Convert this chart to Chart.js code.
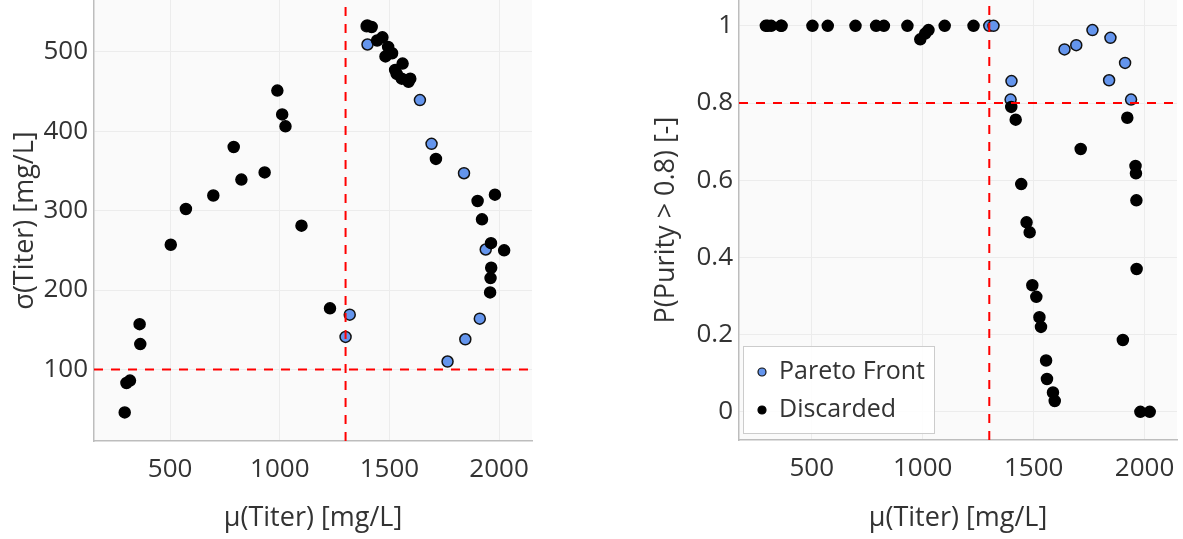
<!DOCTYPE html>
<html>
<head>
<meta charset="utf-8">
<title>Titer / Purity trade-off</title>
<script src="https://cdn.jsdelivr.net/npm/chart.js@4.4.1/dist/chart.umd.min.js"></script>
<style>
  html, body { margin: 0; padding: 0; background: #fff; }
  #wrap { position: relative; width: 1183px; height: 539px; overflow: hidden; }
  .panel { position: absolute; top: 0; }
  #left  { left: 0; }
  #right { left: 560px; }
</style>
</head>
<body>
<div id="wrap">
  <div class="panel" id="left"><canvas id="chartSigma" width="560" height="539"></canvas></div>
  <div class="panel" id="right"><canvas id="chartPurity" width="623" height="539"></canvas></div>
</div>
<script>
(function () {
    'use strict';

    // ── data: one entry per design ─────────────────────────────────────────
    var paretoMu    = [1300, 1319, 1400, 1396, 1639, 1692, 1765, 1840, 1846, 1912, 1939];
    var paretoSigma = [141, 169, 509, 532, 439, 384, 110, 347, 138, 164, 251];
    var paretoProb  = [1.0, 1.0, 0.857, 0.809, 0.939, 0.950, 0.989, 0.859, 0.969, 0.904, 0.809];

    var discardedMu = [293, 301, 317, 361, 364, 503, 572, 697, 790, 825, 931, 989, 1011, 1026, 1099, 1229,
                       1399, 1419, 1444, 1468, 1482, 1494, 1512, 1526, 1533, 1556, 1560, 1587, 1595,
                       1712, 1902, 1922, 1959, 1961, 1963, 1964, 1981, 2023];
    var discardedSigma = [46, 83, 86, 157, 132, 257, 302, 319, 380, 339, 348, 451, 421, 406, 281, 177,
                          533, 531, 514, 518, 494, 506, 498, 477, 472, 466, 485, 462, 466,
                          365, 312, 289, 197, 215, 259, 228, 320, 250];
    var discardedProb = [1, 1, 1, 1, 1, 1, 1, 1, 1, 1, 1, 0.965, 0.980, 0.989, 1, 1,
                         0.790, 0.757, 0.590, 0.491, 0.465, 0.328, 0.298, 0.245, 0.220, 0.133, 0.085, 0.050, 0.028,
                         0.681, 0.186, 0.762, 0.637, 0.618, 0.548, 0.370, 0, 0];

    // constraint thresholds
    var muMin     = 1300;
    var sigmaMax  = 100;
    var purityMin = 0.8;

    var muTicks    = [500, 1000, 1500, 2000];
    var sigmaTicks = [100, 200, 300, 400, 500];
    var probTicks  = [0, 0.2, 0.4, 0.6, 0.8, 1];

    var FONT = '"Open Sans", "Noto Sans", sans-serif';
    var TEXT = '#333333';
    var TICK_SIZE = 26, TITLE_SIZE = 27, LEGEND_SIZE = 25;

    function pairs(xs, ys) {
        return xs.map(function (x, i) { return { x: x, y: ys[i] }; });
    }

    // ── plugins ─────────────────────────────────────────────────────────────
    var plotBg = {
        id: 'plotBg',
        beforeDraw: function (chart) {
            var a = chart.chartArea, ctx = chart.ctx;
            ctx.save();
            ctx.fillStyle = '#fafafa';
            ctx.fillRect(a.left, a.top, a.right - a.left, a.bottom - a.top);
            ctx.restore();
        }
    };

    var thresholdLines = {
        id: 'thresholdLines',
        afterDatasetsDraw: function (chart, args, opts) {
            var a = chart.chartArea, ctx = chart.ctx;
            var px = chart.scales.x.getPixelForValue(opts.x);
            var py = chart.scales.y.getPixelForValue(opts.y);
            ctx.save();
            ctx.beginPath();
            ctx.rect(a.left, a.top, a.right - a.left, a.bottom - a.top);
            ctx.clip();
            ctx.strokeStyle = '#ff0000';
            ctx.lineWidth = 2;
            ctx.setLineDash([9, 8]);
            ctx.beginPath(); ctx.moveTo(px, a.bottom); ctx.lineTo(px, a.top); ctx.stroke();
            ctx.beginPath(); ctx.moveTo(a.left, py); ctx.lineTo(a.right, py); ctx.stroke();
            ctx.restore();
        }
    };

    // legend box in the lower-left corner of the plot area
    var boxLegend = {
        id: 'boxLegend',
        afterDraw: function (chart, args, opts) {
            if (!opts.show) return;
            var a = chart.chartArea, ctx = chart.ctx;
            var w = 192, h = 88;
            var x0 = a.left + 4, y0 = a.bottom - 6 - h;
            ctx.save();
            ctx.fillStyle = 'rgba(255,255,255,0.9)';
            ctx.fillRect(x0, y0, w, h);
            ctx.strokeStyle = '#cccccc';
            ctx.lineWidth = 1;
            ctx.strokeRect(x0 + 0.5, y0 + 0.5, w - 1, h - 1);
            ctx.font = LEGEND_SIZE + 'px ' + FONT;
            ctx.textBaseline = 'middle';
            ctx.textAlign = 'left';
            chart.data.datasets.forEach(function (ds, i) {
                var cy = y0 + 26 + i * 38;
                ctx.beginPath();
                ctx.arc(x0 + 19, cy, 4, 0, Math.PI * 2);
                ctx.fillStyle = ds.backgroundColor;
                ctx.fill();
                ctx.lineWidth = 1.2;
                ctx.strokeStyle = ds.borderColor;
                ctx.stroke();
                ctx.fillStyle = TEXT;
                ctx.fillText(ds.label, x0 + 36, cy);
            });
            ctx.restore();
        }
    };

    // ── chart factory ───────────────────────────────────────────────────────
    function makeScatter(canvasId, cfg) {
        var fixedTicks = function (vals) {
            return function (scale) {
                scale.ticks = vals.map(function (v) { return { value: v }; });
            };
        };
        return new Chart(document.getElementById(canvasId).getContext('2d'), {
            type: 'scatter',
            data: {
                datasets: [{
                    label: 'Pareto Front',
                    data: pairs(paretoMu, cfg.paretoY),
                    order: 1,
                    backgroundColor: '#6495ed',
                    borderColor: '#111111',
                    borderWidth: 1.5,
                    pointRadius: 5.5,
                    pointHoverRadius: 5.5
                }, {
                    label: 'Discarded',
                    data: pairs(discardedMu, cfg.discardedY),
                    order: 0,
                    backgroundColor: '#000000',
                    borderColor: '#000000',
                    borderWidth: 1.5,
                    pointRadius: 5.5,
                    pointHoverRadius: 5.5
                }]
            },
            options: {
                responsive: false,
                animation: false,
                layout: {
                    autoPadding: false,
                    padding: { left: 0, right: cfg.padRight, top: 0, bottom: 0 }
                },
                plugins: {
                    legend: { display: false },
                    tooltip: { enabled: false },
                    thresholdLines: { x: muMin, y: cfg.threshold },
                    boxLegend: { show: cfg.legend }
                },
                scales: {
                    x: {
                        type: 'linear',
                        min: cfg.xRange[0],
                        max: cfg.xRange[1],
                        afterBuildTicks: fixedTicks(muTicks),
                        afterFit: function (s) {
                            s.height = cfg.xAxisHeight;
                            s.paddingLeft = 0;
                            s.paddingRight = 0;
                        },
                        ticks: {
                            padding: 13,
                            maxRotation: 0,
                            color: TEXT,
                            font: { family: FONT, size: TICK_SIZE },
                            callback: function (v) { return String(v); }
                        },
                        grid: { color: '#ececec', lineWidth: 1, drawTicks: false },
                        border: { display: true, color: '#bdbdbd', width: 1.5 },
                        title: {
                            display: true,
                            text: 'μ(Titer) [mg/L]',
                            color: TEXT,
                            font: { family: FONT, size: TITLE_SIZE },
                            padding: { top: 0, bottom: 4 }
                        }
                    },
                    y: {
                        type: 'linear',
                        min: cfg.yRange[0],
                        max: cfg.yRange[1],
                        afterBuildTicks: fixedTicks(cfg.yTicks),
                        afterFit: function (s) {
                            // plot area runs right up to the top edge
                            s.width = cfg.yAxisWidth;
                            s.paddingTop = 0;
                            s.paddingBottom = 0;
                        },
                        ticks: {
                            padding: 6,
                            color: TEXT,
                            font: { family: FONT, size: TICK_SIZE },
                            callback: function (v) { return String(v); }
                        },
                        grid: { color: '#ececec', lineWidth: 1, drawTicks: false },
                        border: { display: true, color: '#bdbdbd', width: 1.5 },
                        title: {
                            display: true,
                            text: cfg.yTitle,
                            color: TEXT,
                            font: { family: FONT, size: TITLE_SIZE },
                            padding: { top: cfg.yTitlePad, bottom: 0 }
                        }
                    }
                }
            },
            plugins: [plotBg, thresholdLines, boxLegend]
        });
    }

    makeScatter('chartSigma', {
        paretoY: paretoSigma,
        discardedY: discardedSigma,
        threshold: sigmaMax,
        xRange: [153, 2150],
        yRange: [10, 565],
        yTicks: sigmaTicks,
        yTitle: 'σ(Titer) [mg/L]',
        yTitlePad: 9,
        yAxisWidth: 94,
        xAxisHeight: 98,
        padRight: 28,
        legend: false
    });

    makeScatter('chartPurity', {
        paretoY: paretoProb,
        discardedY: discardedProb,
        threshold: purityMin,
        xRange: [172, 2146],
        yRange: [-0.073, 1.067],
        yTicks: probTicks,
        yTitle: 'P(Purity > 0.8) [-]',
        yTitlePad: 90,
        yAxisWidth: 179,
        xAxisHeight: 99,
        padRight: 6,
        legend: true
    });
})();
</script>
</body>
</html>
